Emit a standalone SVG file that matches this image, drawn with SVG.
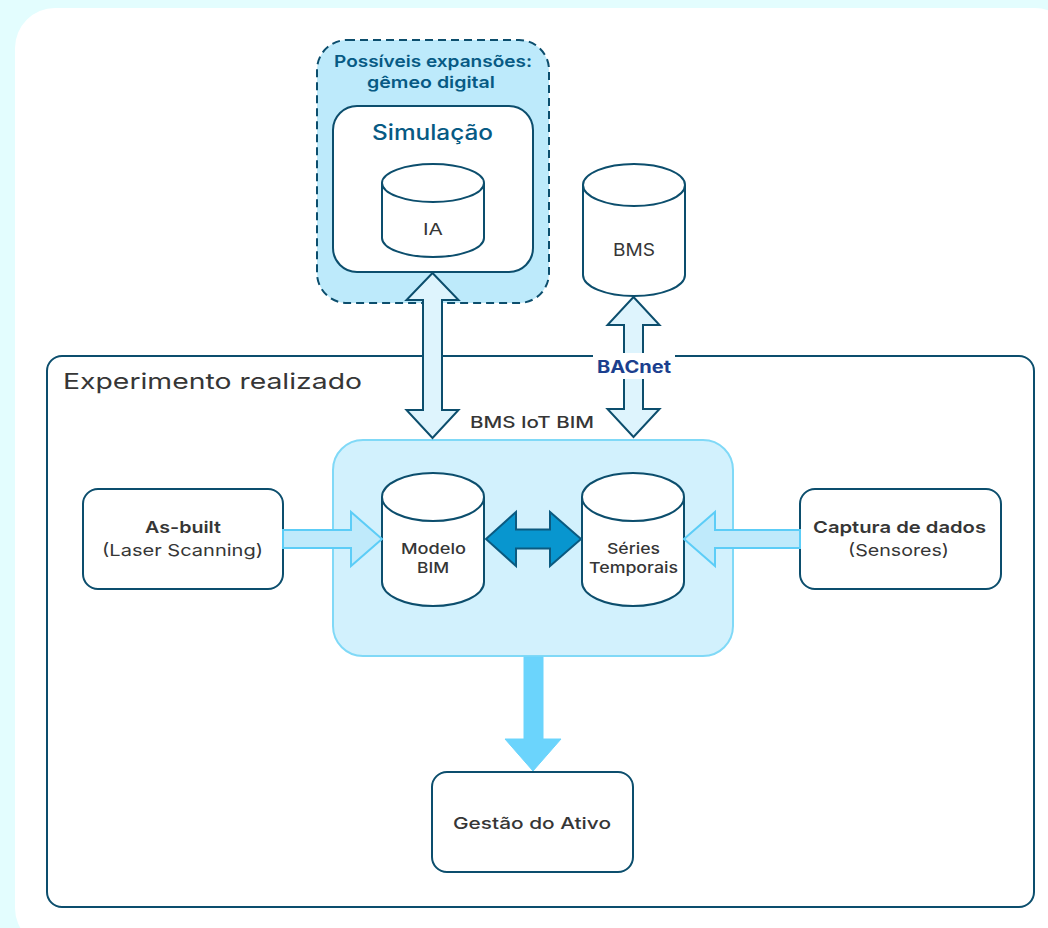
<svg xmlns="http://www.w3.org/2000/svg" width="1048" height="928" viewBox="0 0 1048 928">
  <style>
    text { font-family: Inter, "Open Sans", "Liberation Sans", sans-serif; text-anchor: middle; fill: #363636; }
    .reg { font-weight: 400; }
    .med { font-weight: 500; }
    .semi { font-weight: 600; }
    .bold { font-weight: 700; }
    .teal { fill: #075a84; }
    .box { fill: #ffffff; stroke: #0c4e6d; stroke-width: 2; }
    .cyl { fill: #ffffff; stroke: #0c4e6d; stroke-width: 2; stroke-linejoin: round; }
    .lbl { font-size: 16.5px; }
    .link-v { fill: #def4fd; stroke: #0c4e6d; stroke-width: 2; stroke-linejoin: miter; }
    .link-in { fill: #bfeafb; stroke: #5ccdf7; stroke-width: 2; }
    .link-bi { fill: #0896cf; stroke: #0b5a80; stroke-width: 2; }
    .link-out { fill: #6bd4fc; stroke: #6bd4fc; stroke-width: 1; }
  </style>

  <!-- page background and card -->
  <rect x="0" y="0" width="1048" height="928" fill="#e3fdfe"/>
  <rect x="15" y="8" width="1060" height="940" rx="40" fill="#ffffff"/>

  <!-- experiment frame -->
  <g id="experimento">
    <rect x="47" y="356" width="987" height="551" rx="15" fill="none" stroke="#0c4e6d" stroke-width="2"/>
    <text x="63" y="389" font-size="22" class="reg" style="text-anchor:start" textLength="299" lengthAdjust="spacingAndGlyphs">Experimento realizado</text>
  </g>

  <!-- digital twin expansion -->
  <g id="expansoes">
    <rect x="317" y="40" width="232" height="263" rx="30" fill="#bdeafb" stroke="#0c4e6d" stroke-width="2" stroke-dasharray="8 5"/>
    <text x="433" y="67" font-size="16.5" class="semi teal" textLength="198" lengthAdjust="spacingAndGlyphs">Possíveis expansões:</text>
    <text x="431" y="88" font-size="16.5" class="semi teal" textLength="128" lengthAdjust="spacingAndGlyphs">gêmeo digital</text>
  </g>

  <g id="simulacao">
    <rect class="box" x="333" y="106" width="200" height="166" rx="24"/>
    <text x="432.5" y="140" font-size="21" class="med teal" textLength="121" lengthAdjust="spacingAndGlyphs">Simulação</text>
  </g>

  <g id="ia">
    <path class="cyl" d="M382,183 A51,19 0 0 1 484,183 V238 A51,19 0 0 1 382,238 Z"/>
    <path class="cyl" fill="none" d="M382,183 A51,19 0 0 0 484,183"/>
    <text x="433" y="235" font-size="16.5" class="reg" textLength="20" lengthAdjust="spacingAndGlyphs">IA</text>
  </g>

  <g id="bms">
    <path class="cyl" d="M583,185 A51,21 0 0 1 685,185 V275 A51,21 0 0 1 583,275 Z"/>
    <path class="cyl" fill="none" d="M583,185 A51,21 0 0 0 685,185"/>
    <text x="634" y="256" font-size="17" class="reg" textLength="42" lengthAdjust="spacingAndGlyphs">BMS</text>
  </g>

  <!-- central platform -->
  <g id="bms-iot-bim">
    <rect x="333" y="440" width="400" height="216" rx="30" fill="#d2f1fd" stroke="#80d9f7" stroke-width="2"/>
    <text x="532" y="428" font-size="16" class="med" textLength="124" lengthAdjust="spacingAndGlyphs">BMS IoT BIM</text>
  </g>

  <g id="modelo-bim">
    <path class="cyl" d="M382,497 A51,24 0 0 1 484,497 V582 A51,24 0 0 1 382,582 Z"/>
    <path class="cyl" fill="none" d="M382,497 A51,24 0 0 0 484,497"/>
    <text x="433.5" y="554" font-size="15" class="med" textLength="65" lengthAdjust="spacingAndGlyphs">Modelo</text>
    <text x="433" y="573" font-size="15" class="med" textLength="32" lengthAdjust="spacingAndGlyphs">BIM</text>
  </g>

  <g id="series-temporais">
    <path class="cyl" d="M582,497 A51,24 0 0 1 684,497 V582 A51,24 0 0 1 582,582 Z"/>
    <path class="cyl" fill="none" d="M582,497 A51,24 0 0 0 684,497"/>
    <text x="633.5" y="554" font-size="15" class="med" textLength="53" lengthAdjust="spacingAndGlyphs">Séries</text>
    <text x="633.5" y="573" font-size="15" class="med" textLength="89" lengthAdjust="spacingAndGlyphs">Temporais</text>
  </g>

  <g id="as-built">
    <rect class="box" x="83" y="489" width="200" height="100" rx="15"/>
    <text x="183" y="533" class="lbl semi" textLength="76" lengthAdjust="spacingAndGlyphs">As-built</text>
    <text x="182.5" y="556" class="lbl reg" textLength="161" lengthAdjust="spacingAndGlyphs">(Laser Scanning)</text>
  </g>

  <g id="captura">
    <rect class="box" x="800" y="489" width="201" height="100" rx="15"/>
    <text x="899.5" y="533" class="lbl semi" textLength="173" lengthAdjust="spacingAndGlyphs">Captura de dados</text>
    <text x="898.5" y="556" class="lbl reg" textLength="101" lengthAdjust="spacingAndGlyphs">(Sensores)</text>
  </g>

  <g id="gestao">
    <rect class="box" x="432" y="772" width="201" height="100" rx="15"/>
    <text x="532" y="829" class="lbl med" textLength="158" lengthAdjust="spacingAndGlyphs">Gestão do Ativo</text>
  </g>

  <!-- connectors -->
  <g id="connectors">
    <polygon class="link-v" points="432.5,273 458.5,300 442,300 442,410 458.5,410 432.5,438 406.5,410 423,410 423,300 406.5,300"/>
    <polygon class="link-v" points="633.5,297 659.5,325 643,325 643,409 659.5,409 633.5,437 607.5,409 624,409 624,325 607.5,325"/>
    <polygon class="link-in" points="283,530 351,530 351,512 382,539 351,566 351,548 283,548"/>
    <polygon class="link-in" points="800,530 715,530 715,512 684,539 715,566 715,548 800,548"/>
    <polygon class="link-bi" points="486,539 516,512 516,529.5 550,529.5 550,512 581,539 550,566 550,548.5 516,548.5 516,566"/>
    <polygon class="link-out" points="524,657 543,657 543,739 561,739 533,771 505,739 524,739"/>
    <rect x="593" y="353" width="82" height="26" fill="#ffffff"/>
    <text x="634" y="373" font-size="17" class="bold" style="fill:#1b3f8e" textLength="74" lengthAdjust="spacingAndGlyphs">BACnet</text>
  </g>
</svg>
